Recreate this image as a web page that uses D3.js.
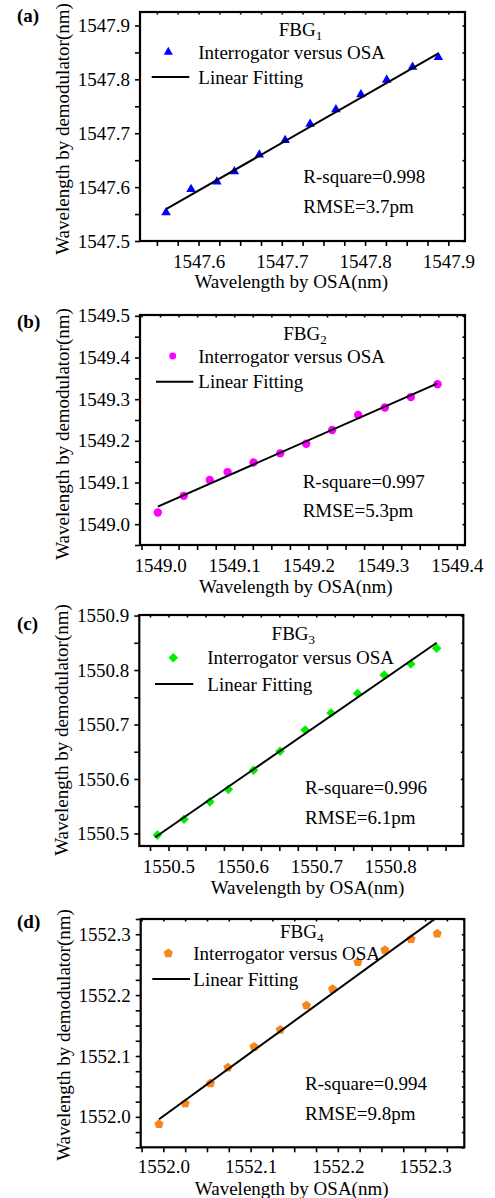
<!DOCTYPE html>
<html><head><meta charset="utf-8">
<script src="https://cdn.jsdelivr.net/npm/d3@7"></script>
<style>html,body{margin:0;padding:0;background:#fff;} svg{display:block;} text{font-family:"Liberation Serif","Times New Roman",Times,serif;}</style>
</head><body>
<script>
// ---------------- data ----------------
const panelLabels = ["(a)", "(b)", "(c)", "(d)"];
const fbgIndex = ["1", "2", "3", "4"];
const legendPointText = "Interrogator versus OSA";
const legendLineText = "Linear Fitting";
const xTitle = "Wavelength by OSA(nm)";
const yTitle = "Wavelength by demodulator(nm)";
const rSquare = ["0.998", "0.997", "0.996", "0.994"];
const rmse = ["3.7", "5.3", "6.1", "9.8"];

const osaA = [1547.561,1547.591,1547.622,1547.643,1547.673,1547.704,1547.734,1547.765,1547.795,1547.826,1547.857,1547.888];
const demA = [1547.553,1547.596,1547.610,1547.629,1547.660,1547.687,1547.717,1547.744,1547.772,1547.799,1547.823,1547.841];
const fitOsaA = [1547.561, 1547.888];
const fitDemA = [1547.559, 1547.848];

const osaB = [1548.997,1549.032,1549.067,1549.091,1549.126,1549.162,1549.197,1549.232,1549.267,1549.303,1549.338,1549.374];
const demB = [1549.028,1549.068,1549.106,1549.125,1549.148,1549.170,1549.193,1549.226,1549.262,1549.280,1549.305,1549.336];
const fitOsaB = [1548.997, 1549.374];
const fitDemB = [1549.042, 1549.338];

const osaC = [1550.485,1550.521,1550.556,1550.581,1550.615,1550.651,1550.685,1550.720,1550.756,1550.792,1550.828,1550.863];
const demC = [1550.497,1550.526,1550.558,1550.581,1550.616,1550.651,1550.690,1550.721,1550.757,1550.791,1550.811,1550.840];
const fitOsaC = [1550.482, 1550.863];
const fitDemC = [1550.493, 1550.850];

const osaD = [1551.995,1552.025,1552.054,1552.074,1552.104,1552.134,1552.164,1552.194,1552.223,1552.254,1552.284,1552.314];
const demD = [1551.988,1552.022,1552.055,1552.081,1552.115,1552.143,1552.183,1552.210,1552.254,1552.274,1552.292,1552.301];
const fitOsaD = [1551.995, 1552.314];
const fitDemD = [1551.996, 1552.328];

const xTickLabelsA = [1547.6, 1547.7, 1547.8, 1547.9];
const yTickLabelsA = [1547.5, 1547.6, 1547.7, 1547.8, 1547.9];
const xTickLabelsB = [1549.0, 1549.1, 1549.2, 1549.3, 1549.4];
const yTickLabelsB = [1549.0, 1549.1, 1549.2, 1549.3, 1549.4, 1549.5];
const xTickLabelsC = [1550.5, 1550.6, 1550.7, 1550.8, 1550.9];
const yTickLabelsC = [1550.5, 1550.6, 1550.7, 1550.8, 1550.9];
const xTickLabelsD = [1552.0, 1552.1, 1552.2, 1552.3];
const yTickLabelsD = [1552.0, 1552.1, 1552.2, 1552.3];

const xDomainA = [1547.5297, 1547.920];
const yDomainA = [1547.5, 1547.925];
const xDomainB = [1548.973, 1549.411];
const yDomainB = [1548.950, 1549.502];
const xDomainC = [1550.4605, 1550.899];
const yDomainC = [1550.477, 1550.901];
const xDomainD = [1551.974, 1552.345];
const yDomainD = [1551.950, 1552.325];

// ---------------- styling / layout ----------------
const FONT = '"Liberation Serif", "Times New Roman", Times, serif';
const FS = 19;

const symbolPentagon = {
  draw(ctx, size) {
    const r = Math.sqrt(size / (2.5 * Math.sin(2 * Math.PI / 5)));
    for (let i = 0; i < 5; i++) {
      const a = -Math.PI / 2 + i * 2 * Math.PI / 5;
      const px = r * Math.cos(a), py = r * Math.sin(a);
      if (i === 0) ctx.moveTo(px, py); else ctx.lineTo(px, py);
    }
    ctx.closePath();
  }
};
const symbolDiamondSq = {
  draw(ctx, size) {
    const h = Math.sqrt(size / 2);
    ctx.moveTo(0, -h); ctx.lineTo(h, 0); ctx.lineTo(0, h); ctx.lineTo(-h, 0); ctx.closePath();
  }
};

const panels = [
  { osa: osaA, dem: demA, fx: fitOsaA, fy: fitDemA, xt: xTickLabelsA, yt: yTickLabelsA, xd: xDomainA, yd: yDomainA,
    box: {l:140, r:465, t:12, b:241}, yStep: 0.05, color: "#0000ff", sym: d3.symbolTriangle, size: 40, lsize: 36,
    label: {x:17, y:15}, title: {x:300.5, y:29}, lp: {x:168.3, y:52}, ltx: 198.3, ll: {x1:151.7, x2:189.3, y:77},
    stats: {x:303.3, y1:176.7, y2:206.7}, xTitle: {x:291.3, y:281.7}, yTitle: {x:62, y:129}, xLabY: 13.5 },
  { osa: osaB, dem: demB, fx: fitOsaB, fy: fitDemB, xt: xTickLabelsB, yt: yTickLabelsB, xd: xDomainB, yd: yDomainB,
    box: {l:140, r:465, t:315, b:545}, yStep: 0.05, color: "#ff00ff", sym: d3.symbolCircle, size: 55, lsize: 38,
    label: {x:17, y:321.7}, title: {x:305, y:333}, lp: {x:172.7, y:356}, ltx: 198.3, ll: {x1:156, x2:193.3, y:381.7},
    stats: {x:302.7, y1:481, y2:510.7}, xTitle: {x:295.8, y:586}, yTitle: {x:62, y:434}, xLabY: 13.5 },
  { osa: osaC, dem: demC, fx: fitOsaC, fy: fitDemC, xt: xTickLabelsC, yt: yTickLabelsC, xd: xDomainC, yd: yDomainC,
    box: {l:139.3, r:463.3, t:615, b:846}, yStep: 0.05, color: "#00ee00", sym: symbolDiamondSq, size: 46, lsize: 46,
    label: {x:17, y:623.3}, title: {x:293.3, y:633}, lp: {x:173.3, y:657.7}, ltx: 207.3, ll: {x1:155, x2:193.3, y:684},
    stats: {x:305, y1:787.3, y2:817.3}, xTitle: {x:307.5, y:887.3}, yTitle: {x:61, y:730}, xLabY: 13.5 },
  { osa: osaD, dem: demD, fx: fitOsaD, fy: fitDemD, xt: xTickLabelsD, yt: yTickLabelsD, xd: xDomainD, yd: yDomainD,
    box: {l:140.7, r:464.3, t:919, b:1147.3}, yStep: 0.025, color: "#f7861c", sym: symbolPentagon, size: 55, lsize: 55,
    label: {x:17, y:921.7}, title: {x:301.7, y:931.7}, lp: {x:168.3, y:953.3}, ltx: 193.3, ll: {x1:152.3, x2:190, y:979},
    stats: {x:305, y1:1083.3, y2:1113.3}, xTitle: {x:291.7, y:1188.3}, yTitle: {x:63, y:1035}, xLabY: 12 }
];

const svg = d3.select("body").append("svg")
  .attr("width", 495).attr("height", 1198)
  .attr("font-family", FONT).attr("font-size", FS);

function stepTicks(dom, step) {
  const out = [];
  const i0 = Math.ceil(dom[0] / step - 1e-6), i1 = Math.floor(dom[1] / step + 1e-6);
  for (let i = i0; i <= i1; i++) out.push(+(i * step).toFixed(4));
  return out;
}
const isIn = (v, arr) => arr.some(t => Math.abs(t - v) < 1e-6);
const fmt = d3.format(".1f");

panels.forEach((p, k) => {
  const g = svg.append("g");
  const b = p.box;
  const x = d3.scaleLinear().domain(p.xd).range([b.l, b.r]);
  const y = d3.scaleLinear().domain(p.yd).range([b.b, b.t]);
  const xMinor = stepTicks(p.xd, 0.025);
  const yMinor = stepTicks(p.yd, p.yStep);

  const styleAxis = sel => {
    sel.attr("font-family", FONT).attr("font-size", FS);
    sel.select(".domain").remove();
    sel.selectAll(".tick line").attr("stroke", "#000").attr("stroke-width", 1.6);
    sel.selectAll(".tick text").attr("fill", "#000")
      .attr("font-family", FONT).attr("font-size", FS)
      .style("font-family", FONT).style("font-size", FS + "px");
  };

  g.append("g").attr("transform", `translate(0,${b.b})`)
    .call(d3.axisBottom(x).tickValues(xMinor).tickSizeOuter(0)
      .tickSizeInner(5).tickPadding(p.xLabY - 5)
      .tickFormat(v => isIn(v, p.xt) ? fmt(v) : ""))
    .call(styleAxis);
  g.append("g").attr("transform", `translate(${b.l},0)`)
    .call(d3.axisLeft(y).tickValues(yMinor).tickSizeOuter(0)
      .tickSizeInner(5).tickPadding(5)
      .tickFormat(v => isIn(v, p.yt) ? fmt(v) : ""))
    .call(styleAxis);
  g.append("g").attr("transform", `translate(0,${b.t})`)
    .call(d3.axisTop(x).tickValues(xMinor).tickSizeOuter(0).tickSizeInner(-2.5).tickFormat(""))
    .call(styleAxis);
  g.append("g").attr("transform", `translate(${b.r},0)`)
    .call(d3.axisRight(y).tickValues(yMinor).tickSizeOuter(0).tickSizeInner(-2.5).tickFormat(""))
    .call(styleAxis);

  g.append("rect").attr("x", b.l).attr("y", b.t).attr("width", b.r - b.l).attr("height", b.b - b.t)
    .attr("fill", "none").attr("stroke", "#000").attr("stroke-width", 2.2);

  const cid = "clip" + k;
  svg.append("defs").append("clipPath").attr("id", cid)
    .append("rect").attr("x", b.l).attr("y", b.t).attr("width", b.r - b.l).attr("height", b.b - b.t);

  const sym = d3.symbol().type(p.sym).size(p.size);
  g.selectAll("path.pt").data(p.osa.map((v, i) => [v, p.dem[i]])).enter()
    .append("path").attr("class", "pt").attr("d", sym)
    .attr("transform", d => `translate(${x(d[0])},${y(d[1])})`)
    .attr("fill", p.color);

  const line = d3.line().x(d => x(d[0])).y(d => y(d[1]));
  g.append("path").datum(p.fx.map((v, i) => [v, p.fy[i]]))
    .attr("d", line).attr("clip-path", `url(#${cid})`)
    .attr("fill", "none").attr("stroke", "#000").attr("stroke-width", 2);

  const ttl = g.append("text").attr("x", p.title.x).attr("y", p.title.y).attr("dy", "0.35em")
    .attr("text-anchor", "middle").style("font-size", FS + "px");
  ttl.append("tspan").text("FBG");
  ttl.append("tspan").attr("dy", "0.3em").style("font-size", "13px").text(fbgIndex[k]);

  g.append("path").attr("d", d3.symbol().type(p.sym).size(p.lsize))
    .attr("transform", `translate(${p.lp.x},${p.lp.y})`).attr("fill", p.color);
  g.append("text").attr("x", p.ltx).attr("y", p.lp.y).attr("dy", "0.35em")
    .style("font-size", FS + "px").text(legendPointText);
  g.append("line").attr("x1", p.ll.x1).attr("x2", p.ll.x2).attr("y1", p.ll.y).attr("y2", p.ll.y)
    .attr("stroke", "#000").attr("stroke-width", 2);
  g.append("text").attr("x", p.ltx).attr("y", p.ll.y).attr("dy", "0.35em")
    .style("font-size", FS + "px").text(legendLineText);

  g.append("text").attr("x", p.stats.x).attr("y", p.stats.y1).attr("dy", "0.35em")
    .style("font-size", FS + "px").text("R-square=" + rSquare[k]);
  g.append("text").attr("x", p.stats.x).attr("y", p.stats.y2).attr("dy", "0.35em")
    .style("font-size", FS + "px").text("RMSE=" + rmse[k] + "pm");

  g.append("text").attr("x", p.xTitle.x).attr("y", p.xTitle.y).attr("dy", "0.35em")
    .attr("text-anchor", "middle").style("font-size", FS + "px").text(xTitle);
  g.append("text").attr("transform", `translate(${p.yTitle.x},${p.yTitle.y}) rotate(-90)`)
    .attr("dy", "0.35em").attr("text-anchor", "middle").style("font-size", FS + "px").text(yTitle);

  g.append("text").attr("x", p.label.x).attr("y", p.label.y).attr("dy", "0.35em")
    .style("font-size", FS + "px").style("font-weight", "bold").text(panelLabels[k]);
});
</script>
</body></html>
